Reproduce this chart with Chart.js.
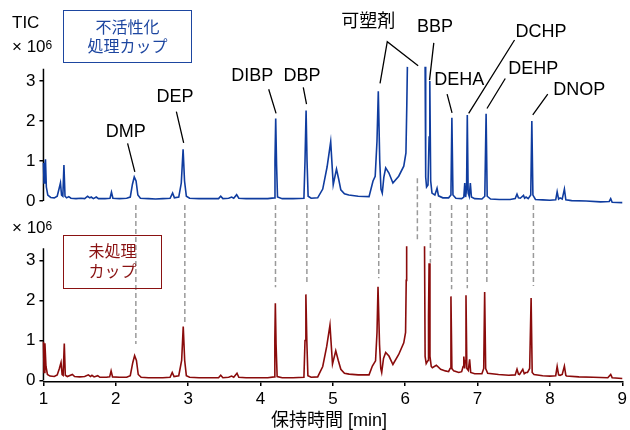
<!DOCTYPE html>
<html>
<head>
<meta charset="utf-8">
<script src="https://cdn.jsdelivr.net/npm/chart.js@4.4.1/dist/chart.umd.min.js"></script>
<style>
  body { margin: 0; background: #fff; font-family: 'Liberation Sans', 'Noto Sans CJK JP', sans-serif; }
  #wrap { position: relative; width: 630px; height: 430px; overflow: hidden; }
  .lbl { position: absolute; color: #000; font-size: 17px; line-height: 20px; white-space: nowrap; }
  .lbl sup { font-size: 12px; position: relative; top: -2px; vertical-align: top; }
  .box { position: absolute; box-sizing: border-box; border: 1.5px solid; display: flex; flex-direction: column;
         justify-content: center; align-items: center; font-size: 16px; }
</style>
</head>
<body>
<div id="wrap">
  <canvas id="tic" width="630" height="430"></canvas>
  <div class="lbl" style="left:12px; top:13px;">TIC</div>
  <div class="lbl" style="left:12px; top:37px;">× 10<sup>6</sup></div>
  <div class="box" style="left:63px; top:10px; width:129px; height:53px; color:#1d46a0; border-color:#1d46a0; line-height:19px;">
    <div>不活性化</div><div>処理カップ</div>
  </div>
  <div class="lbl" style="left:12px; top:218px;">× 10<sup>6</sup></div>
  <div class="box" style="left:63px; top:235px; width:99px; height:54px; color:#8a1212; border-color:#8a1212; line-height:20px;">
    <div>未処理</div><div>カップ</div>
  </div>
  <div class="lbl" style="left:271px; top:409px; font-size:18px; line-height:22px;">保持時間 [min]</div>
</div>
<script>
// top panel is drawn on the same y scale, shifted up by this much
const OFFSET = 4.48;

// 不活性化処理カップ  [time (min), TIC x10^6]; null = off scale
const treatedCup = [
  [1.00,0.95],[1.008,0.45],[1.018,0.9],[1.028,1.04],[1.04,0.35],[1.06,0.15],[1.1,0.09],[1.15,0.08],[1.19,0.12],
  [1.215,0.3],[1.235,0.45],[1.25,0.15],[1.268,0.12],[1.283,0.9],[1.298,0.12],[1.32,0.08],[1.35,0.11],[1.38,0.07],
  [1.45,0.06],[1.52,0.07],[1.57,0.06],[1.61,0.12],[1.64,0.08],[1.66,0.1],[1.69,0.06],[1.73,0.1],[1.76,0.06],
  [1.85,0.06],[1.92,0.07],[1.94,0.22],[1.96,0.07],[2.05,0.06],[2.15,0.07],[2.2,0.1],[2.23,0.42],[2.255,0.6],
  [2.28,0.5],[2.305,0.15],[2.34,0.07],[2.45,0.06],[2.55,0.05],[2.65,0.06],[2.75,0.07],[2.785,0.2],[2.81,0.08],
  [2.87,0.1],[2.905,0.45],[2.93,1.29],[2.95,0.5],[2.975,0.12],[3.02,0.07],[3.15,0.06],[3.3,0.06],[3.42,0.06],
  [3.45,0.12],[3.48,0.06],[3.56,0.07],[3.6,0.1],[3.63,0.07],[3.67,0.16],[3.7,0.07],[3.8,0.06],[3.95,0.06],
  [4.1,0.06],[4.19,0.08],[4.2,1.0],[4.21,2.06],[4.222,0.9],[4.235,0.1],[4.3,0.06],[4.45,0.06],[4.6,0.07],
  [4.615,1.0],[4.63,2.26],[4.643,1.0],[4.658,0.12],[4.7,0.07],[4.79,0.08],[4.86,0.3],[4.92,0.85],[4.97,1.48],
  [5.005,0.41],[5.05,0.8],[5.08,0.55],[5.11,0.28],[5.16,0.18],[5.22,0.15],[5.35,0.12],[5.5,0.11],[5.555,0.5],
  [5.585,0.62],[5.61,1.5],[5.628,2.74],[5.648,1.0],[5.665,0.3],[5.683,0.2],[5.705,0.6],[5.73,0.83],[5.775,0.7],
  [5.83,0.45],[5.91,0.62],[5.98,0.87],[6.01,1.2],[6.022,2.4],[6.03,3.35],[6.15,null],[6.275,3.35],[6.283,0.6],
  [6.295,0.35],[6.315,0.4],[6.33,1.6],[6.34,3.0],[6.352,0.5],[6.37,0.2],[6.41,0.15],[6.44,0.32],[6.46,0.13],
  [6.52,0.08],[6.6,0.08],[6.632,0.15],[6.645,2.08],[6.66,0.15],[6.7,0.07],[6.78,0.06],[6.81,0.1],[6.823,0.45],
  [6.835,0.1],[6.848,0.3],[6.858,2.15],[6.87,0.2],[6.885,0.12],[6.9,0.45],[6.915,0.1],[6.96,0.06],[7.06,0.05],
  [7.1,0.12],[7.118,2.18],[7.133,0.12],[7.18,0.05],[7.3,0.04],[7.45,0.04],[7.52,0.06],[7.545,0.17],[7.565,0.08],
  [7.59,0.07],[7.635,0.14],[7.65,0.07],[7.67,0.1],[7.7,0.06],[7.735,0.15],[7.75,2.0],[7.765,0.15],[7.8,0.04],
  [7.9,0.03],[8.0,0.02],[8.08,0.03],[8.1,0.23],[8.12,0.05],[8.14,0.08],[8.17,0.05],[8.2,0.3],[8.22,0.03],
  [8.3,0.01],[8.5,0.0],[8.7,-0.02],[8.82,-0.01],[8.84,0.06],[8.86,-0.03],[9.0,-0.04]
];

// 未処理カップ
const untreatedCup = [
  [1.0,0.97],[1.008,0.2],[1.02,0.93],[1.035,0.35],[1.055,0.15],[1.09,0.11],[1.15,0.1],[1.19,0.14],[1.22,0.3],
  [1.243,0.45],[1.258,0.15],[1.272,0.13],[1.288,0.92],[1.302,0.13],[1.33,0.1],[1.4,0.15],[1.43,0.1],[1.5,0.09],
  [1.57,0.1],[1.62,0.14],[1.65,0.1],[1.67,0.13],[1.7,0.09],[1.75,0.12],[1.78,0.08],[1.87,0.08],[1.915,0.09],
  [1.935,0.24],[1.955,0.09],[2.05,0.08],[2.15,0.08],[2.2,0.12],[2.235,0.45],[2.26,0.62],[2.285,0.5],[2.31,0.15],
  [2.35,0.08],[2.45,0.07],[2.55,0.07],[2.65,0.07],[2.75,0.08],[2.78,0.2],[2.805,0.1],[2.87,0.12],[2.91,0.5],
  [2.932,1.35],[2.952,0.5],[2.975,0.12],[3.02,0.08],[3.15,0.07],[3.3,0.07],[3.42,0.07],[3.45,0.13],[3.48,0.07],
  [3.56,0.08],[3.6,0.11],[3.63,0.08],[3.675,0.18],[3.7,0.08],[3.8,0.07],[3.95,0.07],[4.1,0.07],[4.19,0.09],
  [4.198,1.0],[4.205,1.93],[4.215,0.9],[4.23,0.1],[4.3,0.07],[4.45,0.07],[4.6,0.08],[4.615,1.0],[4.627,2.15],
  [4.64,1.0],[4.655,0.12],[4.7,0.08],[4.79,0.09],[4.86,0.35],[4.915,0.85],[4.96,1.38],[4.995,0.41],[5.04,0.74],
  [5.075,0.5],[5.11,0.28],[5.16,0.18],[5.225,0.16],[5.35,0.14],[5.5,0.14],[5.546,0.36],[5.59,0.49],[5.61,1.2],
  [5.624,2.34],[5.645,0.9],[5.662,0.3],[5.675,0.2],[5.7,0.55],[5.73,0.7],[5.775,0.61],[5.83,0.4],[5.91,0.65],
  [5.98,0.94],[6.005,1.2],[6.014,2.5],[6.02,3.35],[6.15,null],[6.267,3.35],[6.275,0.6],[6.29,0.42],[6.315,0.5],
  [6.322,1.6],[6.33,2.93],[6.342,0.6],[6.36,0.35],[6.375,0.32],[6.43,0.38],[6.49,0.28],[6.555,0.24],[6.6,0.22],
  [6.62,0.3],[6.632,2.1],[6.645,0.3],[6.67,0.24],[6.74,0.2],[6.78,0.22],[6.8,0.35],[6.81,0.6],[6.822,0.3],
  [6.832,0.5],[6.84,2.13],[6.852,0.3],[6.872,0.25],[6.89,0.53],[6.905,0.2],[6.96,0.17],[7.06,0.17],[7.085,0.3],
  [7.098,2.21],[7.112,0.3],[7.14,0.18],[7.29,0.15],[7.43,0.13],[7.52,0.14],[7.545,0.28],[7.565,0.16],[7.58,0.15],
  [7.625,0.28],[7.645,0.17],[7.667,0.2],[7.69,0.2],[7.72,0.3],[7.74,2.06],[7.755,0.2],[7.78,0.15],[7.9,0.12],
  [8.0,0.11],[8.08,0.12],[8.1,0.35],[8.12,0.14],[8.14,0.13],[8.17,0.15],[8.2,0.36],[8.22,0.13],[8.23,0.11],
  [8.4,0.09],[8.6,0.08],[8.8,0.07],[8.84,0.15],[8.86,0.07],[9.0,0.05]
];

// grey dashed guides: retention time, start in top panel, end in bottom panel
const guideTimes = [2.277, 2.954, 4.207, 4.641, 5.634, 6.168, 6.348, 6.641, 6.858, 7.128, 7.772];
const guideTop = [-0.1, -0.1, -0.1, -0.1, -0.1, 0.57, -0.05, -0.1, -0.1, -0.1, -0.1];
const guideBottom = [0.91, 1.45, 2.33, 2.44, 2.55, 3.47, 2.94, 2.28, 2.3, 2.4, 2.36];

const yTickValues = [0, 1, 2, 3];
const xTickValues = [1, 2, 3, 4, 5, 6, 7, 8, 9];

// peak labels, in chart coordinates (min, scale units incl. offset)
const peakLabels = [
  { text: 'DMP',  x: 2.136, y: 6.21, line: [[2.163, 5.92], [2.263, 5.21]] },
  { text: 'DEP',  x: 2.818, y: 7.08, line: [[2.837, 6.71], [2.938, 5.93]] },
  { text: 'DIBP', x: 3.886, y: 7.60, line: [[4.113, 7.27], [4.215, 6.67]] },
  { text: 'DBP',  x: 4.574, y: 7.60, line: [[4.591, 7.32], [4.636, 6.90]] },
  { text: '可塑剤', x: 5.49, y: 8.96, line: [[5.652, 7.42], [5.752, 8.46], [6.179, 7.86]] },
  { text: 'BBP',  x: 6.412, y: 8.83, line: [[6.395, 8.43], [6.336, 7.50]] },
  { text: 'DEHA', x: 6.747, y: 7.49, line: [[6.579, 7.15], [6.647, 6.68]] },
  { text: 'DCHP', x: 7.876, y: 8.70, line: [[7.511, 8.50], [6.877, 6.67]] },
  { text: 'DEHP', x: 7.769, y: 7.78, line: [[7.383, 7.54], [7.130, 6.79]] },
  { text: 'DNOP', x: 8.404, y: 7.26, line: [[7.970, 7.15], [7.763, 6.63]] }
];

const FONT = "'Liberation Sans', 'Noto Sans CJK JP', sans-serif";

function toPoints(trace, shift) {
  return trace.map(([x, y]) => ({ x, y: y === null ? null : y + shift }));
}

const guidePts = [];
guideTimes.forEach((t, i) => {
  guidePts.push({ x: t, y: guideTop[i] + OFFSET }, { x: t, y: guideBottom[i] }, { x: t, y: null });
});

const axisPts = [{ x: 1, y: 0 }, { x: 1, y: 3.3 }, { x: 1, y: null }, { x: 1, y: OFFSET }, { x: 1, y: OFFSET + 3.3 }];

const leaderPts = [];
peakLabels.forEach(p => {
  p.line.forEach(([x, y]) => leaderPts.push({ x, y }));
  leaderPts.push({ x: p.line[0][0], y: null });
});

const labelPlugin = {
  id: 'peakText',
  afterDatasetsDraw(chart) {
    const { ctx, scales } = chart;
    ctx.save();
    ctx.fillStyle = '#000';
    ctx.font = '18px ' + FONT;
    ctx.textAlign = 'center';
    ctx.textBaseline = 'middle';
    peakLabels.forEach(p => {
      ctx.fillText(p.text, scales.x.getPixelForValue(p.x), scales.y.getPixelForValue(p.y));
    });
    ctx.restore();
  }
};

new Chart(document.getElementById('tic'), {
  type: 'line',
  data: {
    datasets: [
      { data: toPoints(treatedCup, OFFSET), borderColor: '#0f3c9f', borderWidth: 1.6, order: 1 },
      { data: toPoints(untreatedCup, 0), borderColor: '#8a0b0b', borderWidth: 1.6, order: 1 },
      { data: guidePts, borderColor: '#9a9a9a', borderWidth: 1.5, borderDash: [5, 3], order: 3 },
      { data: axisPts, borderColor: '#000', borderWidth: 1.5, order: 2 },
      { data: leaderPts, borderColor: '#000', borderWidth: 1.3, order: 2 }
    ]
  },
  options: {
    responsive: false,
    animation: false,
    layout: { padding: { top: 20, left: 22, right: 2, bottom: 17.5 } },
    plugins: { legend: { display: false }, tooltip: { enabled: false } },
    elements: { point: { radius: 0 }, line: { tension: 0, fill: false } },
    datasets: { line: { spanGaps: false, clip: false } },
    scales: {
      x: {
        type: 'linear', min: 1, max: 9,
        afterBuildTicks: s => { s.ticks = xTickValues.map(v => ({ value: v })); },
        ticks: { color: '#000', font: { size: 17, family: FONT }, padding: 3, maxRotation: 0 },
        grid: { drawOnChartArea: false, tickLength: 4, color: '#000', lineWidth: 1.5 },
        border: { color: '#000', width: 1.5 }
      },
      y: {
        type: 'linear', min: -0.04, max: 9,
        afterBuildTicks: s => {
          s.ticks = yTickValues.map(v => ({ value: v })).concat(yTickValues.map(v => ({ value: v + OFFSET })));
        },
        ticks: {
          color: '#000', font: { size: 17, family: FONT }, padding: 4,
          callback: v => String(Math.round(v >= OFFSET - 0.01 ? v - OFFSET : v))
        },
        grid: { drawOnChartArea: false, tickLength: 4, color: '#000', lineWidth: 1.5 },
        border: { display: false }
      }
    }
  },
  plugins: [labelPlugin]
});
</script>
</body>
</html>
